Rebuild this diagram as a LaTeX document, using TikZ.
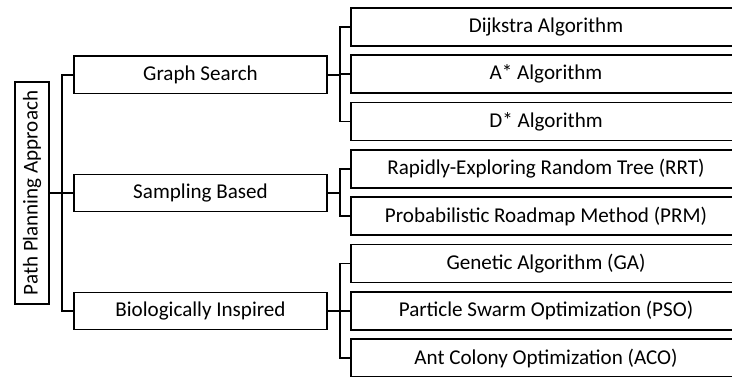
\documentclass[tikz,border=0pt]{standalone}
\usepackage{fontspec}
\setmainfont{Carlito}
\usepackage{tikz}
\tikzset{
    rootbox/.style   = {draw=black, line width=1.2pt, rotate=90, minimum width=5.55cm, minimum height=0.85cm, inner sep=0pt},
    groupbox/.style  = {draw=black, line width=1.2pt, minimum width=6.32cm, minimum height=0.93cm, inner sep=0pt},
    methodbox/.style = {draw=black, line width=1.2pt, minimum width=9.75cm, minimum height=0.95cm, inner sep=0pt},
    elbow/.style     = {draw=black, line width=1.2pt}
}

\begin{document}
\begin{tikzpicture}[font=\fontsize{15}{18}\selectfont]
            % Frame to ensure alignment (right and bottom boxes run off the page):
            \clip                                                     ( 0.000,  0.000) rectangle (18.30, -9.40);
            \node[rootbox]   (root) at ( 0.800, -4.825) {Path Planning Approach};
            \node[groupbox]  (gs)   at ( 5.013, -1.870) {Graph Search};
            \node[groupbox]  (sb)   at ( 5.013, -4.825) {Sampling Based};
            \node[groupbox]  (bi)   at ( 5.013, -7.775) {Biologically Inspired};
            \node[methodbox] (dij)  at (13.650, -0.675) {Dijkstra Algorithm};
            \node[methodbox] (ast)  at (13.650, -1.857) {A* Algorithm};
            \node[methodbox] (dst)  at (13.650, -3.040) {D* Algorithm};
            \node[methodbox] (rrt)  at (13.650, -4.222) {Rapidly-Exploring Random Tree (RRT)};
            \node[methodbox] (prm)  at (13.650, -5.405) {Probabilistic Roadmap Method (PRM)};
            \node[methodbox] (ga)   at (13.650, -6.588) {Genetic Algorithm (GA)};
            \node[methodbox] (pso)  at (13.650, -7.770) {Particle Swarm Optimization (PSO)};
            \node[methodbox] (aco)  at (13.650, -8.953) {Ant Colony Optimization (ACO)};
            % Root to groups:
            \foreach \grp in {gs, sb, bi}
                \draw[elbow] (root.south) -- ++(0.3, 0) |- (\grp.west);
            % Groups to methods:
            \foreach \mth in {dij, ast, dst}
                \draw[elbow] (gs.east) -- ++(0.3, 0) |- (\mth.west);
            \foreach \mth in {rrt, prm}
                \draw[elbow] (sb.east) -- ++(0.3, 0) |- (\mth.west);
            \foreach \mth in {ga, pso, aco}
                \draw[elbow] (bi.east) -- ++(0.3, 0) |- (\mth.west);
        \end{tikzpicture}
\end{document}
